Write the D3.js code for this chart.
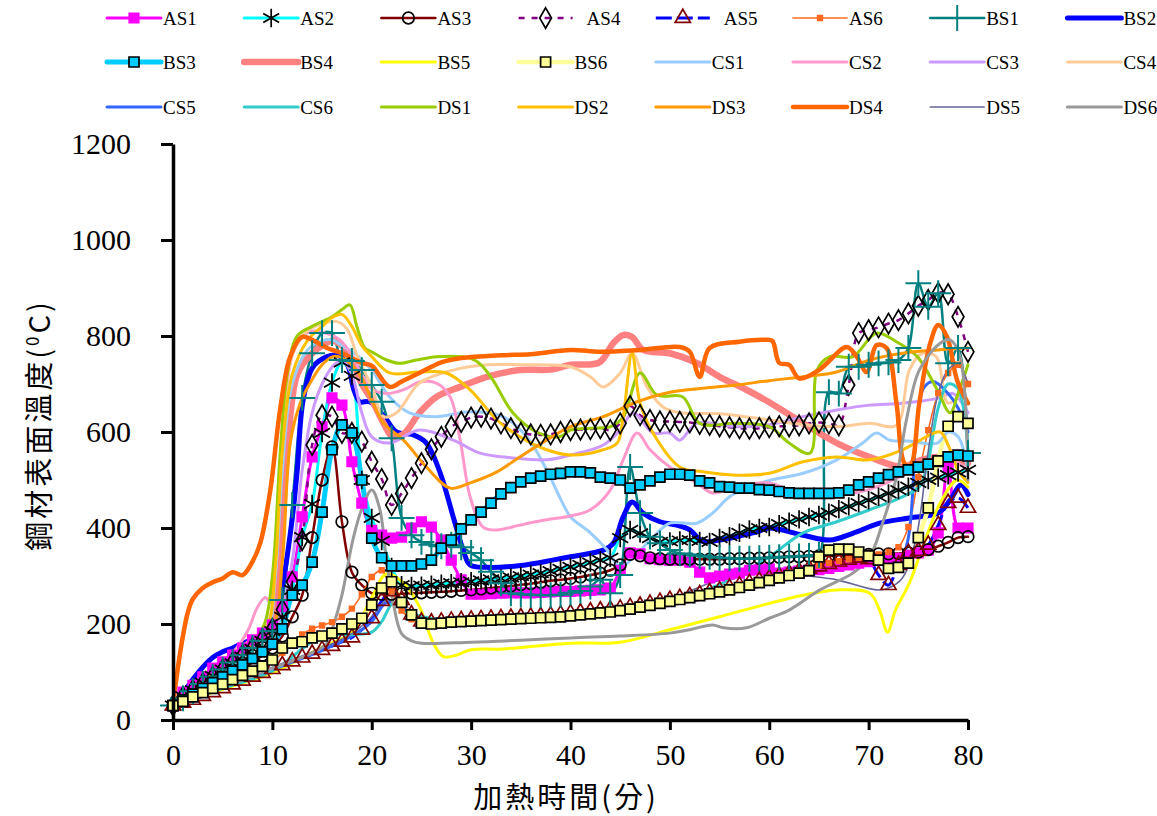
<!DOCTYPE html>
<html>
<head>
<meta charset="utf-8">
<script src="https://cdn.jsdelivr.net/npm/d3@7"></script>
<style>
  body { margin: 0; background: #fff; }
  svg { display: block; }
</style>
</head>
<body>
<svg id="chart" width="1157" height="816"></svg>
<script>
// ---- data: steel surface temperature (°C) against heating time (min) ----
const minutes = d3.range(0, 81);            // marked series are sampled every minute
const yTicks = [0, 200, 400, 600, 800, 1000, 1200];
const xTicks = [0, 10, 20, 30, 40, 50, 60, 70, 80];

const AS1 = [30,58,72,90,108,121,135,150,167,181,198, 236,298,423,548,611,671,656,538,452,395,
  385,379,381,400,413,402,375,333,292,262, 262,263,264,265,265,265,266,267,268,268,
  269,270,271,275,312,348,346,336,334,333, 333,329,308,296,300,304,306,312,313,315,
  306,308,310,312,313,316,320,323,327,330, 333,335,337,343,348,354,390,527,400,400];
const AS2 = [30,50,62,78,92,105,118,132,148,165,185, 215,271,381,450,598,703,745,717,500,421,
  373,319,281,279,280,282,284,285,287,289, 291,293,295,297,300,303,306,310,315,319,
  323,328,333,338,379,396,389,379,371,372, 374,375,373,371,379,383,390,397,400,402,
  408,413,418,423,427,432,439,445,452,458, 465,472,479,486,494,500,505,510,516,521];
const AS3 = [30,40,50,60,72,84,96,108,120,135,150, 175,215,260,380,500,569,413,308,281,264,
  262,262,263,264,265,266,267,268,270,271, 273,275,277,279,282,284,287,290,292,295,
  298,302,306,312,323,345,342,338,336,335, 335,335,335,335,335,336,336,337,337,338,
  339,340,340,341,342,342,343,344,344,345, 346,346,347,348,350,355,362,370,380,382];
const AS4 = [30,48,62,76,90,105,120,135,150,168,190, 230,288,375,573,635,632,598,598,580,538,
  502,448,472,504,535,564,590,611,621,630, 632,628,618,608,598,595,594,595,600,604,
  605,606,608,604,618,654,635,625,622,622, 621,620,617,615,612,610,608,607,608,610,
  612,612,614,618,620,618,614,698,806,812, 818,826,833,847,863,875,890,887,840,767];
const AS5 = [30,36,42,50,58,66,74,82,90,98,106, 114,122,130,138,146,154,163,172,188,212,
  248,268,250,220,205,203,205,207,208,209, 210,211,212,213,214,215,216,218,220,222,
  224,226,228,230,232,235,238,242,246,250, 254,258,262,266,270,275,280,285,290,295,
  300,305,310,315,320,325,330,334,338,335, 302,281,323,348,352,365,406,452,463,442];
const AS6 = [30,38,46,55,64,73,82,92,102,112,122, 140,160,178,190,197,204,215,232,262,298,
  312,268,228,210,205,205,206,207,208,209, 210,211,212,213,214,215,216,218,220,222,
  224,226,228,230,233,236,240,244,248,252, 256,260,264,268,272,277,282,287,292,297,
  302,307,312,317,322,327,331,335,338,340, 345,350,360,402,506,604,681,723,740,700];
const BS1 = [30,45,60,75,90,105,120,135,150,165,185, 250,448,671,764,806,806,750,748,729,698,
  663,587,421,385,371,365,362,365,360,348, 333,309,285,264,262,261,260,260,261,265,
  269,278,292,264,302,527,431,382,368,354, 347,345,342,340,338,337,336,336,337,338,
  339,340,341,342,344,683,680,736,736,740, 743,745,750,775,910,861,889,743,775,556];
const BS3 = [30,42,54,66,78,90,102,115,128,142,158, 190,260,281,329,433,563,615,598,500,379,
  338,321,321,321,325,333,358,375,398,417, 433,452,471,484,496,504,508,512,514,517,
  517,515,506,504,500,483,490,498,506,512, 512,510,498,494,486,485,483,483,480,479,
  476,473,472,472,472,472,473,479,490,496, 504,511,517,521,527,533,539,548,552,550];
const BS6 = [30,39,48,57,66,75,84,93,102,112,125, 150,160,163,171,175,181,190,200,212,240,
  275,288,245,219,202,200,202,204,205,206, 207,208,209,210,211,212,213,214,215,217,
  219,221,223,225,228,231,235,239,243,247, 251,255,259,263,267,271,276,281,286,291,
  296,301,306,311,340,354,356,356,350,342, 333,316,318,327,380,442,540,612,632,618];

// unmarked series: [minute, °C] readings
const BS2 = [[0,30],[1,55],[2,85],[3,110],[4,130],[5,142],[6,150],[7,160],[8,168],[9,180],[10,200],[11,280],[12,420],[12.5,520],[13.1,667],[14.1,736],[15.5,757],[16.5,760],[17.5,743],[18.2,688],[18.8,663],[19.8,663],[21.5,625],[22.5,600],[24.2,594],[25.5,577],[26.9,514],[28.2,423],[29.2,354],[29.9,323],[31.6,318],[35,322],[38.2,333],[40,340],[43.3,354],[44.3,368],[45.3,423],[46.2,454],[47.3,431],[49,413],[50.7,406],[52,396],[53.3,372],[55,375],[56.7,382],[58.8,392],[60,400],[63.4,385],[66.1,375],[68.4,389],[71.1,410],[74.1,421],[77,431],[78.2,458],[79.3,490],[80,470]];
const BS4 = [[0,30],[2,70],[4,100],[6,130],[8,160],[10,200],[10.8,350],[11.5,560],[12.5,720],[13.8,760],[15,780],[16,790],[17,780],[18,750],[19,700],[20,667],[21.2,618],[22.1,590],[23.2,596],[24.8,640],[26.5,673],[28.9,694],[31.6,715],[34.9,729],[38,730],[40,740],[42.9,745],[44.3,785],[45.3,802],[46.2,798],[47.3,771],[50,764],[52.7,744],[55,715],[57.7,688],[60,662],[63.4,618],[66.8,577],[70.1,548],[73.4,527],[75,540],[77,548],[80,535]];
const BS5 = [[0,30],[5,64],[10,98],[15,152],[18,182],[20,255],[21.5,305],[23.2,285],[24.8,236],[26.2,160],[27.2,132],[28.5,135],[29.9,146],[33.2,148],[40,160],[45,162],[50,188],[55,215],[60,243],[63.4,260],[66.8,271],[70.1,264],[71.1,229],[71.9,183],[72.7,229],[74.1,285],[75.8,381],[77.2,452],[78.9,500],[80,485]];
const CS1 = [[0,30],[2,70],[4,100],[6,128],[8,155],[9.5,185],[10.3,300],[11,520],[12,700],[13.5,770],[15,790],[16,792],[17,780],[18.5,760],[20,729],[21.8,673],[23.8,640],[26.5,632],[29.9,642],[33.2,632],[35.6,590],[37.6,521],[39.2,452],[40,423],[42,390],[43.7,354],[45,319],[46.3,338],[48.3,381],[50,410],[52.7,410],[54.3,431],[56,465],[58.1,486],[60,499],[63.4,514],[66.8,542],[69.4,577],[70.8,598],[72.1,583],[74,581],[76.9,577],[78,600],[79,590],[80,520]];
const CS2 = [[0,30],[2,72],[4,105],[6,140],[7.5,185],[8.5,235],[9.3,255],[9.8,245],[10.3,350],[11,600],[12,760],[13,800],[14,810],[15.5,805],[16.8,792],[18,760],[19,720],[20,690],[21.5,680],[23.2,688],[24.8,704],[26.5,702],[27.9,673],[28.9,583],[29.9,465],[31.2,402],[32.6,396],[34.9,406],[37.6,417],[40,425],[42,438],[44,479],[45.3,542],[46.7,598],[48,563],[50,527],[52.7,494],[54.3,473],[56.7,486],[60,494],[63.4,468],[66.8,468],[70,480],[73,505],[76,530],[78,545],[80,520]];
const CS3 = [[0,30],[2,68],[4,98],[6,125],[8,150],[10,180],[11,230],[12,330],[13,520],[14,640],[15,700],[16,735],[17,750],[18,720],[19,640],[20,590],[21.8,577],[24.8,604],[28.2,583],[30.9,556],[34.2,546],[37.6,542],[40,552],[43.3,573],[45,604],[46.3,640],[48.3,598],[50,598],[51,583],[52.7,618],[56.7,611],[60,615],[63.4,632],[66.8,646],[70.1,656],[73.4,660],[76.9,670],[78.5,680],[80,640]];
const CS4 = [[0,30],[2,75],[4,110],[6,140],[8,170],[9.5,200],[10.3,320],[11,600],[12,760],[13.5,810],[15,825],[16.5,830],[17.5,815],[18.5,760],[20,694],[21.2,632],[22.5,640],[24.8,702],[28.2,729],[31.6,740],[34.9,740],[40,736],[42,715],[43.3,694],[45,723],[46.2,764],[47.7,694],[49.3,652],[51,640],[55,638],[60,625],[63.4,615],[66.8,611],[70.1,618],[72.8,614],[74.1,729],[75.4,764],[76.8,757],[78,660],[80,700]];
const CS5 = [[0,30],[5,68],[10,105],[15,145],[18,175],[20,205],[21.5,245],[23,235],[25,210],[30,210],[40,220],[45,230],[50,248],[55,268],[60,292],[65,315],[70,330],[72,330],[73,320],[74,380],[74.8,600],[75.5,690],[76.5,705],[78,680],[79,650],[80,600]];
const CS6 = [[0,30],[5,66],[10,102],[15,175],[18,178],[20,183],[21,205],[22.2,245],[23.2,229],[25.9,212],[30,210],[40,218],[45,235],[50,250],[55,282],[60,340],[63.4,390],[66.8,413],[70.1,438],[73.4,465],[75.1,486],[76,540],[77,650],[78,700],[79,690],[80,560]];
const DS1 = [[0,30],[2,72],[4,105],[6,135],[8,165],[9.2,200],[10,300],[10.8,560],[11.5,720],[12.5,800],[14,820],[16,840],[17,855],[17.8,865],[18.5,820],[19.3,775],[20,767],[21.5,750],[22.8,743],[24.5,750],[26.5,757],[29.9,754],[31,740],[32.2,708],[34.2,640],[36.6,600],[38.9,590],[40,604],[42,608],[44,611],[45.3,631],[47,723],[48.7,677],[51.3,673],[53,618],[56.7,618],[60,611],[62,577],[64.1,556],[64.8,729],[66.1,757],[68.4,757],[70.8,806],[72.8,788],[74.9,757],[76.9,688],[78.2,640],[79,680],[80,740]];
const DS2 = [[0,30],[2,72],[4,103],[6,133],[8,162],[9.5,195],[10.3,320],[11,560],[12,720],[13.5,790],[15,820],[16,838],[17,845],[18,820],[19,780],[20,757],[21.8,723],[24.8,725],[27.5,723],[29.9,688],[32.6,625],[34.9,590],[37.6,563],[40,552],[43.3,563],[44.7,577],[45.3,631],[46.2,764],[47,660],[48.3,598],[51,527],[53.3,517],[56.7,510],[60,514],[63.4,538],[66.8,548],[70.1,542],[73.4,563],[75.8,590],[77.2,600],[78.2,563],[79,520],[80,495]];
const DS3 = [[0,30],[2,70],[4,100],[6,130],[8,158],[10,190],[11,330],[11.8,577],[12.8,660],[13.8,702],[15,740],[16.1,757],[17,755],[18.8,719],[20,667],[21.2,618],[23.2,583],[25.5,527],[27.9,483],[29.9,494],[32.6,517],[34.9,548],[37.6,583],[40,611],[43.3,632],[46.7,663],[50,683],[53.3,691],[56.7,698],[60,707],[63.4,715],[66.8,725],[70.1,750],[73.4,764],[76.9,771],[80,775]];
const DS4 = [[0,30],[0.5,110],[1,175],[1.5,225],[2,252],[3,275],[4,287],[5,295],[6,308],[7,302],[8,330],[8.8,370],[9.8,480],[10.8,650],[11.8,757],[13,798],[14,792],[15.5,775],[17,764],[19,744],[20,738],[21.8,694],[23,705],[24.8,723],[27,745],[29,754],[33,760],[36,762],[40,771],[43,767],[47,771],[51,777],[52,767],[53,715],[54,775],[57,788],[59.5,792],[60.3,790],[61,744],[62,740],[63,712],[65,729],[67.8,777],[68.8,757],[69.8,725],[70.8,781],[71.8,775],[72.8,660],[73.6,535],[74.2,530],[75.1,660],[76.2,785],[77,823],[77.9,798],[78.9,708],[80,660]];
const DS5 = [[0,30],[5,70],[10,110],[15,150],[18,180],[20,215],[21.5,250],[23,235],[25,205],[30,208],[40,218],[45,228],[48,240],[51,260],[54,285],[57,300],[61,308],[64,300],[66.8,292],[70.8,271],[72,275],[73.4,296],[74.8,381],[76,560],[77,680],[78,730],[79,740],[80,700]];
const DS6 = [[0,30],[5,68],[10,108],[14,140],[15.5,160],[16.1,194],[17,260],[18.1,375],[19,440],[20,479],[20.8,440],[21.5,330],[22.2,240],[23,180],[24,165],[25,160],[30,162],[35,166],[40,171],[45,175],[50,181],[52,188],[54.3,198],[55.4,192],[57.7,192],[60,212],[62,229],[65.1,271],[68.4,306],[70.1,340],[71.4,410],[72.8,506],[73.8,625],[75.1,729],[77.2,785],[78.2,792],[79.2,757],[80,500]];

const seriesNames = ["AS1","AS2","AS3","AS4","AS5","AS6","BS1","BS2","BS3","BS4","BS5","BS6",
                     "CS1","CS2","CS3","CS4","CS5","CS6","DS1","DS2","DS3","DS4","DS5","DS6"];
const seriesData = {AS1,AS2,AS3,AS4,AS5,AS6,BS1,BS2,BS3,BS4,BS5,BS6,CS1,CS2,CS3,CS4,CS5,CS6,DS1,DS2,DS3,DS4,DS5,DS6};

// ---- appearance of each series ----
const style = {
  AS1: {color:"#FF00FF", width:3,   marker:"square",   mFill:"#FF00FF", mStroke:"#FF00FF", mSize:90},
  AS2: {color:"#00FFFF", width:3,   marker:"asterisk", mFill:"none",    mStroke:"#000",    mSize:240},
  AS3: {color:"#800000", width:2.5, marker:"circle",   mFill:"none",    mStroke:"#000",    mSize:105},
  AS4: {color:"#800080", width:2.5, dash:"6,7", marker:"diamond", mFill:"none", mStroke:"#000", mSize:120},
  AS5: {color:"#0000FF", width:3,   dash:"16,5", marker:"triangle", mFill:"none", mStroke:"#800000", mSize:100},
  AS6: {color:"#FF6A20", width:1.6, marker:"square",   mFill:"#FF6A20", mStroke:"#FF6A20", mSize:22},
  BS1: {color:"#008080", width:2.5, marker:"plus",     mFill:"none",    mStroke:"#008080", mSize:220},
  BS2: {color:"#0000FF", width:5},
  BS3: {color:"#00CCFF", width:5,   marker:"square",   mFill:"#00CCFF", mStroke:"#000",    mSize:100},
  BS4: {color:"#FF8080", width:6.5},
  BS5: {color:"#FFFF00", width:3},
  BS6: {color:"#FFFF99", width:4.5, marker:"square",   mFill:"#FFFF99", mStroke:"#000",    mSize:100},
  CS1: {color:"#99CCFF", width:3},
  CS2: {color:"#FF99CC", width:3},
  CS3: {color:"#CC99FF", width:3},
  CS4: {color:"#FFCC99", width:3},
  CS5: {color:"#3366FF", width:3},
  CS6: {color:"#33CCCC", width:3},
  DS1: {color:"#99CC00", width:3},
  DS2: {color:"#FFC000", width:3},
  DS3: {color:"#FF9900", width:3},
  DS4: {color:"#FF6600", width:4.5},
  DS5: {color:"#666699", width:1.6},
  DS6: {color:"#999999", width:3}
};

const symbolType = {
  square: d3.symbolSquare, circle: d3.symbolCircle, diamond: d3.symbolDiamond,
  triangle: d3.symbolTriangle, asterisk: d3.symbolAsterisk, plus: d3.symbolPlus
};

// ---- layout ----
const svg = d3.select("#chart");
svg.append("rect").attr("width", 1157).attr("height", 816).attr("fill", "#fff");

const x = d3.scaleLinear().domain([0, 80]).range([173, 968]);
const y = d3.scaleLinear().domain([0, 1200]).range([720, 144]);

// points of a series as [minute, value]
function points(name) {
  const d = seriesData[name];
  return typeof d[0] === "number" ? d.map((v, i) => [minutes[i], v]) : d;
}

const line = d3.line()
  .x(d => x(d[0])).y(d => y(d[1]))
  .curve(d3.curveCatmullRom.alpha(0.5));

// ---- series lines ----
const gLines = svg.append("g");
seriesNames.forEach(name => {
  const s = style[name];
  gLines.append("path")
    .datum(points(name))
    .attr("d", line)
    .attr("fill", "none")
    .attr("stroke", s.color)
    .attr("stroke-width", s.width)
    .attr("stroke-dasharray", s.dash || null)
    .attr("stroke-linejoin", "round")
    .attr("stroke-linecap", s.dash ? "butt" : "round");
});

// ---- markers ----
function drawMarker(sel, s) {
  const sym = d3.symbol().type(symbolType[s.marker]).size(s.mSize);
  sel.attr("d", sym)
    .attr("fill", s.mFill)
    .attr("stroke", s.mStroke)
    .attr("stroke-width", s.marker === "plus" ? 2 : 1.7);
}
const gMarks = svg.append("g");
seriesNames.forEach(name => {
  const s = style[name];
  if (!s.marker) return;
  gMarks.append("g").selectAll("path")
    .data(points(name))
    .join("path")
    .attr("transform", d => `translate(${x(d[0])},${y(d[1])})`)
    .call(drawMarker, s);
});

// ---- axes ----
const numFont = "'Liberation Serif', 'DejaVu Serif', serif";
const yAxis = svg.append("g").attr("transform", "translate(173,0)")
  .call(d3.axisLeft(y).tickValues(yTicks).tickSize(12).tickSizeOuter(0).tickPadding(28).tickFormat(d3.format("d")));
const xAxis = svg.append("g").attr("transform", "translate(0,720)")
  .call(d3.axisBottom(x).tickValues(xTicks).tickSize(10).tickSizeOuter(0).tickPadding(14).tickFormat(d3.format("d")));
[yAxis, xAxis].forEach(g => {
  g.select(".domain").attr("stroke", "#000").attr("stroke-width", 3.5);
  g.selectAll(".tick line").attr("stroke", "#000").attr("stroke-width", 3);
  g.selectAll(".tick text").attr("fill", "#000")
    .style("font-family", numFont).style("font-size", "30px");
});
yAxis.selectAll(".tick text").attr("dx", "-2");

// axis titles
const cjkFont = "'Noto Sans CJK TC', 'Noto Sans CJK SC', sans-serif";
svg.append("text")
  .attr("x", 566).attr("y", 808)
  .attr("text-anchor", "middle")
  .style("font-family", cjkFont).style("font-size", "29px")
  .style("letter-spacing", "3px")
  .text("加熱時間(分)");

const yTitle = svg.append("text")
  .attr("transform", "translate(50,425) rotate(-90)")
  .attr("text-anchor", "middle")
  .style("font-family", cjkFont).style("font-size", "29px")
  .style("letter-spacing", "3px");
yTitle.append("tspan").text("鋼材表面溫度(");
yTitle.append("tspan").attr("dy", -11).style("font-size", "17px").text("0");
yTitle.append("tspan").attr("dy", 11).text("C)");

// ---- legend: 3 rows of 8 ----
const legend = svg.append("g");
const colX = i => 107 + i * 137.2;
const rowY = [18, 62, 107];
seriesNames.forEach((name, k) => {
  const s = style[name];
  const gx = colX(k % 8), gy = rowY[Math.floor(k / 8)];
  const g = legend.append("g").attr("transform", `translate(${gx},${gy})`);
  g.append("line")
    .attr("x1", 0).attr("x2", 54).attr("y1", 0).attr("y2", 0)
    .attr("stroke", s.color).attr("stroke-width", s.width)
    .attr("stroke-dasharray", s.dash || null)
    .attr("stroke-linecap", s.dash ? "butt" : "round");
  if (s.marker) {
    g.append("path").attr("transform", "translate(27,0)").call(drawMarker, s);
  }
  g.append("text")
    .attr("x", s.dash ? 68 : 56).attr("y", 7)
    .style("font-family", numFont).style("font-size", "19px")
    .text(name);
});
</script>
</body>
</html>
